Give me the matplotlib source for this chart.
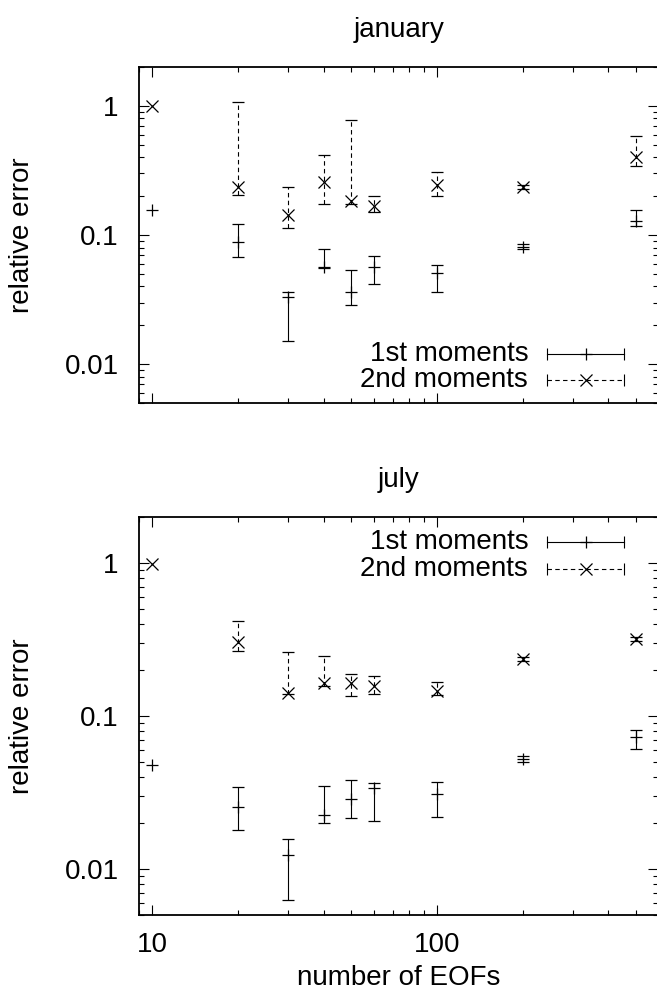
import matplotlib
matplotlib.use("Agg")
from matplotlib import pyplot as plt
from matplotlib.ticker import (LogLocator, FixedLocator, FixedFormatter, NullFormatter,
                               FormatStrFormatter)

plt.rcParams['font.family'] = ['Liberation Sans', 'DejaVu Sans']

# number of EOFs
n_eofs = [10, 20, 30, 40, 50, 60, 100, 200, 500]

# january, 1st moments: value and lower / upper end of the error bar
jan_m1 = [0.156, 0.088, 0.033, 0.057, 0.036, 0.057, 0.051, 0.081, 0.129]
jan_m1_lo = [0.156, 0.068, 0.015, 0.056, 0.0286, 0.042, 0.036, 0.078, 0.118]
jan_m1_hi = [0.156, 0.122, 0.036, 0.078, 0.054, 0.069, 0.059, 0.085, 0.156]

# january, 2nd moments
jan_m2 = [1.0, 0.235, 0.143, 0.259, 0.182, 0.168, 0.244, 0.235, 0.40]
jan_m2_lo = [1.0, 0.203, 0.113, 0.175, 0.175, 0.151, 0.20, 0.226, 0.34]
jan_m2_hi = [1.0, 1.07, 0.235, 0.42, 0.78, 0.20, 0.31, 0.245, 0.58]

# july, 1st moments
jul_m1 = [0.0476, 0.0254, 0.0124, 0.0227, 0.0286, 0.0336, 0.031, 0.0527, 0.0734]
jul_m1_lo = [0.0476, 0.018, 0.0063, 0.020, 0.0214, 0.0205, 0.0218, 0.050, 0.0605]
jul_m1_hi = [0.0476, 0.0345, 0.0157, 0.035, 0.038, 0.0363, 0.037, 0.055, 0.081]

# july, 2nd moments
jul_m2 = [0.98, 0.303, 0.141, 0.164, 0.164, 0.158, 0.146, 0.237, 0.32]
jul_m2_lo = [0.98, 0.265, 0.139, 0.158, 0.135, 0.139, 0.138, 0.228, 0.31]
jul_m2_hi = [0.98, 0.416, 0.263, 0.247, 0.189, 0.182, 0.166, 0.245, 0.33]

y_ticks = [0.01, 0.1, 1]
y_tick_labels = ['0.01', '0.1', '1']
legend_labels = ['1st moments', '2nd moments']

FS = 20
MS = 8.5
DASH = (0, (4, 3))


def to_err(vals, lo, hi):
    # zero length bars (single run) get no bar at all
    minus = [v - l if h > l else float('nan') for v, l, h in zip(vals, lo, hi)]
    plus = [h - v if h > l else float('nan') for v, l, h in zip(vals, lo, hi)]
    return [minus, plus]


def draw_panel(ax, m1, m1_lo, m1_hi, m2, m2_lo, m2_hi, title, legend_y, show_xlabels):
    ax.errorbar(n_eofs, m1, yerr=to_err(m1, m1_lo, m1_hi), fmt='+', color='black',
                ms=MS, mew=0.9, elinewidth=0.8, capsize=4.5, capthick=0.8)
    eb = ax.errorbar(n_eofs, m2, yerr=to_err(m2, m2_lo, m2_hi), fmt='x', color='black',
                     ms=MS, mew=0.9, elinewidth=0.8, capsize=4.5, capthick=0.8)
    eb[2][0].set_linestyle(DASH)
    for cap in eb[1]:
        cap.set_color('0.35')

    ax.set_xscale('log')
    ax.set_yscale('log')
    ax.set_xlim(9, 600)
    ax.set_ylim(0.005, 2)

    ax.yaxis.set_major_locator(FixedLocator(y_ticks))
    ax.yaxis.set_major_formatter(FixedFormatter(y_tick_labels))
    ax.yaxis.set_minor_locator(LogLocator(base=10, subs=range(2, 10)))
    ax.yaxis.set_minor_formatter(NullFormatter())
    ax.xaxis.set_major_locator(LogLocator(base=10))
    ax.xaxis.set_minor_locator(LogLocator(base=10, subs=range(2, 10)))
    ax.xaxis.set_minor_formatter(NullFormatter())
    if show_xlabels:
        ax.xaxis.set_major_formatter(FormatStrFormatter('%g'))
    else:
        ax.xaxis.set_major_formatter(NullFormatter())

    ax.tick_params(which='both', direction='in', top=True, right=True, width=0.8)
    ax.tick_params(which='major', length=7.5)
    ax.tick_params(which='minor', length=3.8)
    ax.tick_params(axis='y', which='major', labelsize=FS, pad=15)
    ax.tick_params(axis='x', which='major', labelsize=FS, pad=12)
    for sp in ax.spines.values():
        sp.set_linewidth(1.3)

    ax.set_ylabel('relative error', fontsize=FS)
    ax.yaxis.label.set_va('center')
    ax.yaxis.set_label_coords(-0.2264, 0.5)
    ax.set_title(title, fontsize=FS, y=legend_y[2], va='center', pad=0)

    # gnuplot style key: text on the left, sample with end caps on the right
    styles = [('-', '+'), (DASH, 'x')]
    for label, y, (ls, mk) in zip(legend_labels, legend_y[:2], styles):
        ax.text(0.749, y, label, transform=ax.transAxes, ha='right', va='center',
                fontsize=FS)
        ax.plot([0.786, 0.934], [y, y], transform=ax.transAxes, color='black',
                ls=ls, lw=0.8, clip_on=False)
        ax.plot([0.786, 0.934], [y, y], transform=ax.transAxes, color='black',
                ls='none', marker='|', ms=8, mew=0.8, clip_on=False)
        ax.plot([0.860], [y], transform=ax.transAxes, color='black',
                ls='none', marker=mk, ms=MS, mew=0.9, clip_on=False)


fig = plt.figure(figsize=(6.57, 9.97), dpi=100)
ax1 = fig.add_axes([0.2123, 0.5958, 0.7898, 0.3370])
ax2 = fig.add_axes([0.2123, 0.0822, 0.7898, 0.3992])

draw_panel(ax1, jan_m1, jan_m1_lo, jan_m1_hi, jan_m2, jan_m2_lo, jan_m2_hi,
           'january', (0.146, 0.068, 1.110), False)
draw_panel(ax2, jul_m1, jul_m1_lo, jul_m1_hi, jul_m2, jul_m2_lo, jul_m2_hi,
           'july', (0.938, 0.869, 1.093), True)

ax2.set_xlabel('number of EOFs', fontsize=FS)
ax2.xaxis.label.set_va('center')
ax2.xaxis.set_label_coords(0.5, -0.158)

fig.savefig('out.png', dpi=100)
